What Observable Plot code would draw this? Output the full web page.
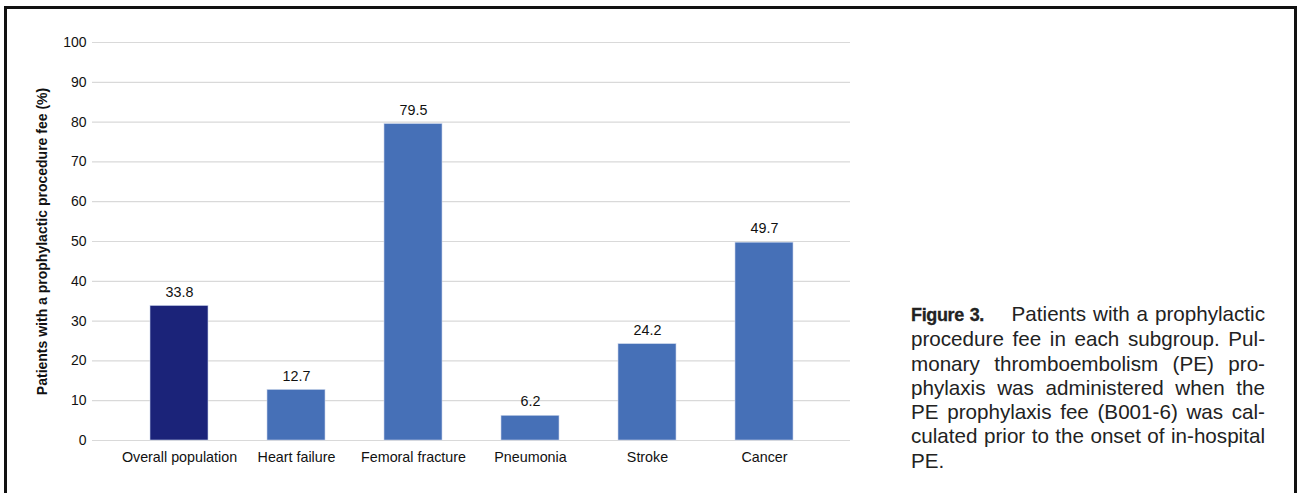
<!DOCTYPE html>
<html>
<head>
<meta charset="utf-8">
<script src="https://cdn.jsdelivr.net/npm/d3@7"></script>
<script src="https://cdn.jsdelivr.net/npm/@observablehq/plot@0.6"></script>
<style>
  html, body { margin: 0; padding: 0; background: #fff; }
  body { width: 1297px; height: 493px; position: relative; overflow: hidden; font-family: "Liberation Sans", Arial, sans-serif; }
  #frame { position: absolute; left: 4px; top: 6px; width: 1287px; height: 600px; border: 3px solid #111; box-sizing: content-box; }
  #chart { position: absolute; left: 0; top: 0; }
  #caption { position: absolute; left: 911px; top: 302px; width: 354px; font-size: 17.5px; line-height: 24.3px; color: #222; font-family: "Liberation Sans", Arial, sans-serif; }
  #caption div { text-align: justify; text-align-last: justify; white-space: nowrap; }
  #caption div.last { text-align-last: left; }
  #caption b { font-weight: bold; font-size: 18px; letter-spacing: -0.35px; -webkit-text-stroke: 0.3px #222; }
</style>
</head>
<body>
<div id="frame"></div>
<div id="chart"></div>
<div id="caption">
  <div><b>Figure 3.</b>&nbsp;&nbsp;&nbsp; Patients with a prophylactic</div>
  <div>procedure fee in each subgroup. Pul-</div>
  <div>monary thromboembolism (PE) pro-</div>
  <div>phylaxis was administered when the</div>
  <div>PE prophylaxis fee (B001-6) was cal-</div>
  <div id="fitline">culated prior to the onset of in-hospital</div>
  <div class="last">PE.</div>
</div>
<script>
const categories = ["Overall population", "Heart failure", "Femoral fracture", "Pneumonia", "Stroke", "Cancer"];
const values = [33.8, 12.7, 79.5, 6.2, 24.2, 49.7];
const yTicks = [0, 10, 20, 30, 40, 50, 60, 70, 80, 90, 100];
const yLabel = "Patients with a prophylactic procedure fee (%)";

const data = categories.map((c, i) => ({category: c, value: values[i]}));
const dark = "#1b2379";
const blue = "#4670b7";

const chart = Plot.plot({
  width: 870,
  height: 493,
  marginLeft: 92,
  marginRight: 20,
  marginTop: 42,
  marginBottom: 53,
  style: {fontFamily: "'Liberation Sans', Arial, sans-serif", fontSize: "14px", color: "#111", background: "transparent"},
  x: {domain: categories, paddingInner: 0.506, paddingOuter: 0.484, label: null},
  y: {domain: [0, 100], label: null},
  marks: [
    Plot.gridY(yTicks, {stroke: "#d9d9d9", strokeOpacity: 1, strokeWidth: 1.2}),
    Plot.axisY(yTicks, {tickSize: 0, tickPadding: 6, fontSize: 14, label: null}),
    Plot.axisX({tickSize: 0, tickPadding: 11, fontSize: 14.3, label: null}),
    Plot.barY(data, {
      x: "category",
      y: "value",
      fill: d => d.category === categories[0] ? dark : blue,
      stroke: "#c9d4ea",
      strokeWidth: 0.6
    }),
    Plot.text(data, {
      x: "category",
      y: "value",
      text: d => d.value.toFixed(1),
      dy: -14,
      fontSize: 14.3,
      fill: "#111"
    }),
    Plot.text([yLabel], {
      frameAnchor: "left",
      dx: -50,
      rotate: -90,
      textAnchor: "middle",
      text: d => d,
      fontWeight: "bold",
      fontSize: 14,
      fill: "#111"
    })
  ]
});
document.getElementById("chart").appendChild(chart);

// fit caption font so the longest natural line fills the column
(function fit() {
  const cap = document.getElementById("caption");
  const line = document.getElementById("fitline");
  const probe = document.createElement("span");
  probe.textContent = line.textContent;
  probe.style.whiteSpace = "nowrap";
  probe.style.visibility = "hidden";
  probe.style.position = "absolute";
  cap.appendChild(probe);
  const w = probe.getBoundingClientRect().width;
  const fs = parseFloat(getComputedStyle(cap).fontSize);
  cap.style.fontSize = (fs * 350 / w).toFixed(2) + "px";
  probe.remove();
})();
</script>
</body>
</html>
